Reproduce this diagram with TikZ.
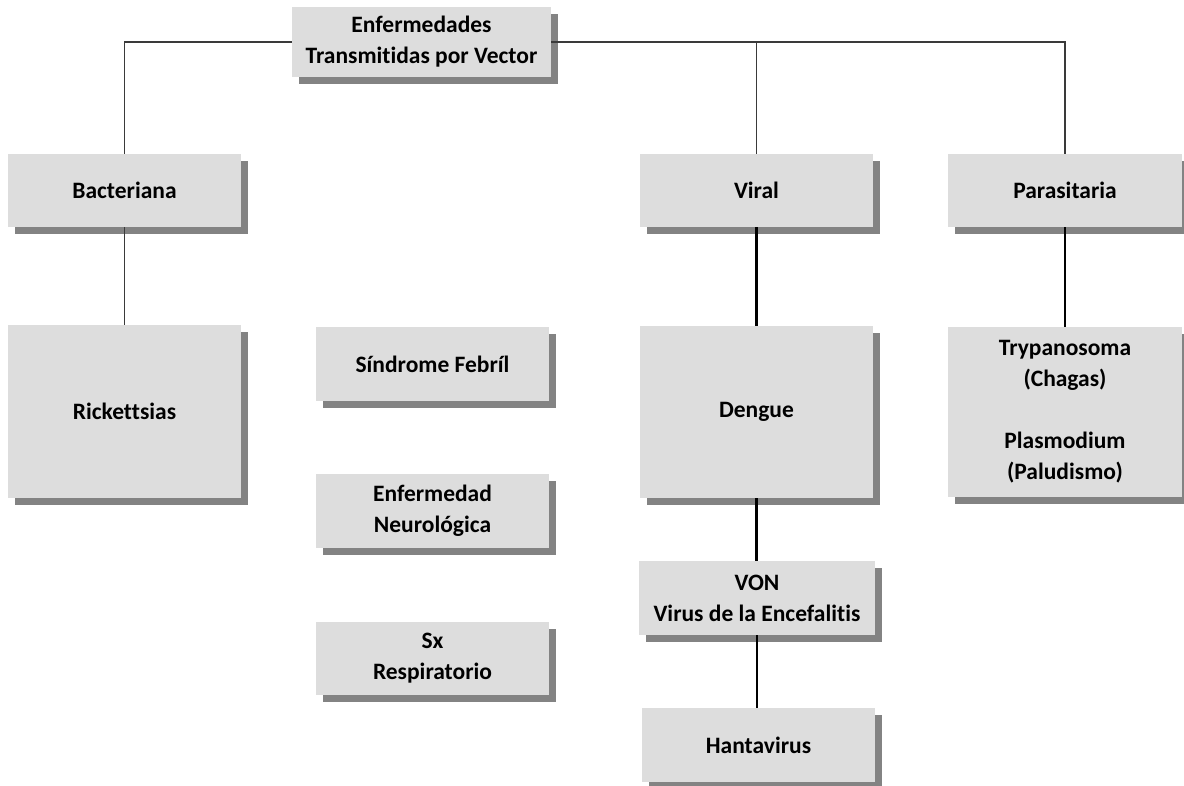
\documentclass[tikz,border=0pt]{standalone}
\usepackage{fontspec}
\setmainfont{Carlito}[Ligatures=NoCommon]
\usetikzlibrary{shadows}
\definecolor{boxfill}{HTML}{DDDDDD}
\definecolor{boxshade}{HTML}{838383}
\definecolor{linkgray}{HTML}{3A3A3A}
\tikzset{
  catbox/.style={fill=boxfill, draw=none, inner sep=0pt, align=center,
    font=\bfseries\fontsize{23.5}{31}\selectfont,
    drop shadow={shadow xshift=7pt, shadow yshift=-7pt, fill=boxshade, opacity=1},
    minimum width=233pt, minimum height=73pt},
  thinlink/.style={draw=linkgray, line width=1.8pt},
  thicklink/.style={draw=black, line width=2.6pt}
}
\begin{document}
\begin{tikzpicture}[x=1pt, y=-1pt]
\useasboundingbox (0,0) rectangle (1184,786);
% boxes
\node[catbox, minimum width=259pt, minimum height=70pt] (root) at (421.5,42) {Enfermedades\\Transmitidas por Vector};
\node[catbox] (bact) at (124.5,190.5) {Bacteriana};
\node[catbox, minimum height=173pt] (rick) at (124.5,411.5) {Rickettsias};
\node[catbox, minimum height=74pt] (febril) at (432.5,364) {Síndrome Febríl};
\node[catbox, minimum height=74pt] (neuro) at (432.5,511) {Enfermedad\\Neurológica};
\node[catbox] (resp) at (432.5,658.5) {Sx\\Respiratorio};
\node[catbox] (viral) at (756.5,190.5) {Viral};
\node[catbox, minimum height=172pt] (dengue) at (756.5,412) {Dengue};
\node[catbox, minimum width=236pt, minimum height=74pt] (von) at (757,598) {VON\\Virus de la Encefalitis};
\node[catbox, minimum height=74pt] (hanta) at (758.5,745) {Hantavirus};
\node[catbox, minimum width=234pt] (para) at (1065,190.5) {Parasitaria};
\node[catbox, minimum width=234pt, minimum height=170pt] (tryp) at (1065,412) {Trypanosoma\\(Chagas)\\[31pt]Plasmodium\\(Paludismo)};
% connectors
\draw[thinlink] (root.west) -| (bact.north);
\draw[thinlink] (root.east) -| (para.north);
\draw[thinlink] (viral.north) -- (viral.north |- root.east);
\draw[thinlink] (bact.south) -- (rick.north);
\draw[thicklink] (viral.south) -- (dengue.north);
\draw[thicklink] (dengue.south) -- (dengue.south |- von.north);
\draw[thicklink] (von.south) -- (von.south |- hanta.north);
\draw[thicklink] (para.south) -- (tryp.north);
\end{tikzpicture}
\end{document}
